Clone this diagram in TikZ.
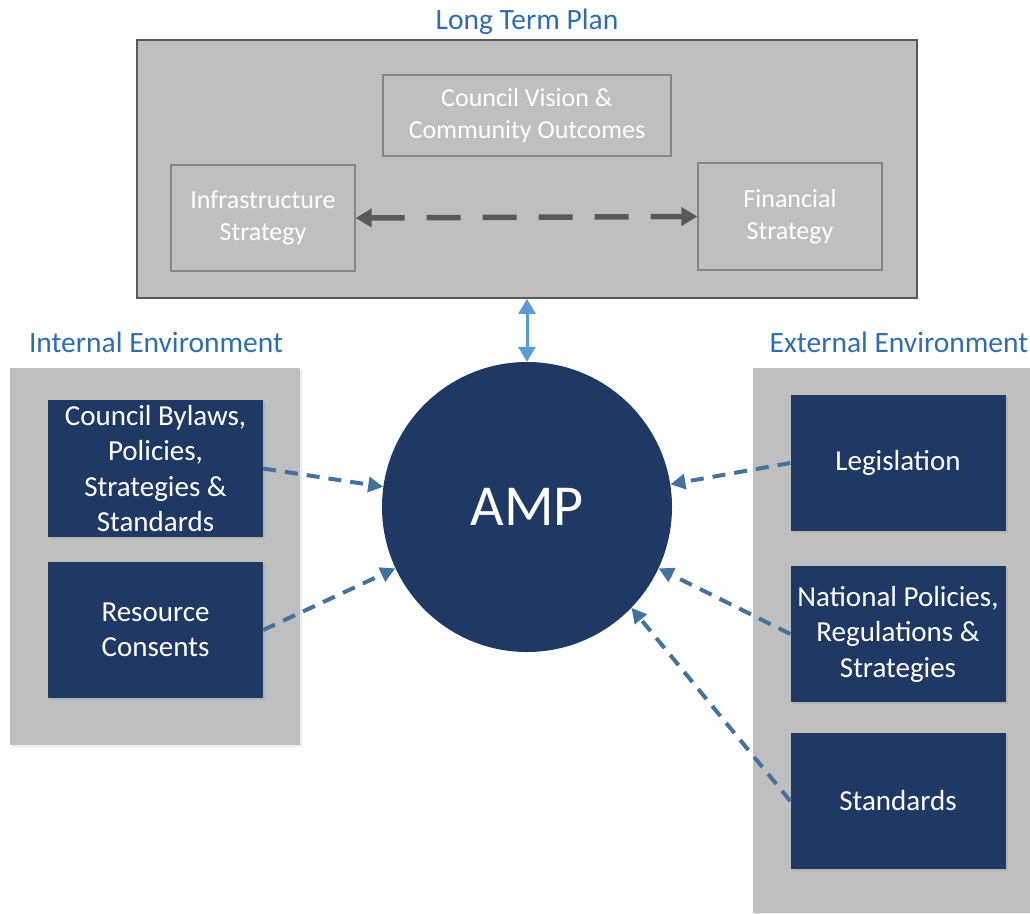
\documentclass[tikz,border=0pt]{standalone}
\usepackage{fontspec}
\setmainfont{Carlito}
\usetikzlibrary{arrows.meta,shadows}
\definecolor{panelgray}{HTML}{BFBFBF}
\definecolor{navy}{HTML}{203864}
\definecolor{titleblue}{HTML}{2E6DB0}
\definecolor{arrowblue}{HTML}{44729E}
\definecolor{lightblue}{HTML}{5B9BD5}
\definecolor{darkgray}{HTML}{595959}
\definecolor{innerborder}{HTML}{858585}
\tikzset{
  panel/.style={draw=none, fill=panelgray, inner sep=0pt,
    drop shadow={opacity=0.15, shadow xshift=2pt, shadow yshift=-2pt}},
  ltpbox/.style={draw=darkgray, line width=1.8pt, fill=panelgray, inner sep=0pt},
  ltpinner/.style={draw=innerborder, line width=1.3pt, fill=panelgray, inner sep=0pt,
    text=white, align=center, font=\fontsize{26}{31.5}\selectfont},
  navybox/.style={fill=navy, draw=none, inner sep=0pt, minimum width=215pt,
    minimum height=136pt, text=white, align=center,
    font=\fontsize{29}{35.5}\selectfont,
    drop shadow={opacity=0.2, shadow xshift=2pt, shadow yshift=-2pt}},
  grouptitle/.style={text=titleblue, font=\fontsize{29.5}{33}\selectfont, inner sep=0pt},
  bluedash/.style={draw=arrowblue, line width=4pt, dash pattern=on 13pt off 9pt,
    -{Triangle[length=15pt,width=15pt]}},
  graydash/.style={draw=darkgray, line width=5.5pt, dash pattern=on 34pt off 22pt,
    {Triangle[length=16pt,width=18pt]}-{Triangle[length=16pt,width=18pt]}},
  bluedouble/.style={draw=lightblue, line width=3pt,
    {Triangle[length=15pt,width=17pt]}-{Triangle[length=15pt,width=17pt]}},
}
\begin{document}
\begin{tikzpicture}[x=1pt,y=-1pt]
\useasboundingbox (0,0) rectangle (1030,913);

% Long Term Plan
\node[grouptitle] (ltptitle) at (527,22) {Long Term Plan};
\node[ltpbox, minimum width=780pt, minimum height=258pt] (ltp) at (527,169) {};
\node[ltpinner, minimum width=288pt, minimum height=81pt] (vision) at (527,115.5)
  {Council Vision \&\\Community Outcomes};
\node[ltpinner, minimum width=184pt, minimum height=106pt] (infra) at (263,218)
  {Infrastructure\\Strategy};
\node[ltpinner, minimum width=184pt, minimum height=107pt] (fin) at (790,216.5)
  {Financial\\Strategy};
\draw[graydash] (infra.east) -- (fin.west);

% AMP
\node[circle, fill=navy, minimum size=290pt, inner sep=0pt, text=white,
  font=\fontsize{58}{60}\selectfont] (amp) at (527,507) {AMP};
\draw[bluedouble] (ltp.south) -- (amp.north);

% Internal environment
\node[grouptitle] (inttitle) at (156,342) {Internal Environment};
\node[panel, minimum width=290pt, minimum height=377pt] (intpanel) at (155,556.5) {};
\node[navybox, minimum height=137pt] (bylaws) at (155.5,468.5)
  {Council Bylaws,\\Policies,\\Strategies \&\\Standards};
\node[navybox] (consents) at (155.5,630)
  {Resource\\Consents};

% External environment
\node[grouptitle] (exttitle) at (899,342) {External Environment};
\node[panel, minimum width=277pt, minimum height=545pt] (extpanel) at (891.5,640.5) {};
\node[navybox] (legis) at (898,463) {Legislation};
\node[navybox] (natpol) at (898,634)
  {National Policies,\\Regulations \&\\Strategies};
\node[navybox] (stds) at (898,801) {Standards};

% connectors
\draw[bluedash] (bylaws.east) -- (amp.172);
\draw[bluedash] (consents.east) -- (amp.205);
\draw[bluedash] (legis.west) -- (amp.9);
\draw[bluedash] (natpol.west) -- (amp.-25);
\draw[bluedash] (stds.west) -- (amp.-44);
\end{tikzpicture}
\end{document}
